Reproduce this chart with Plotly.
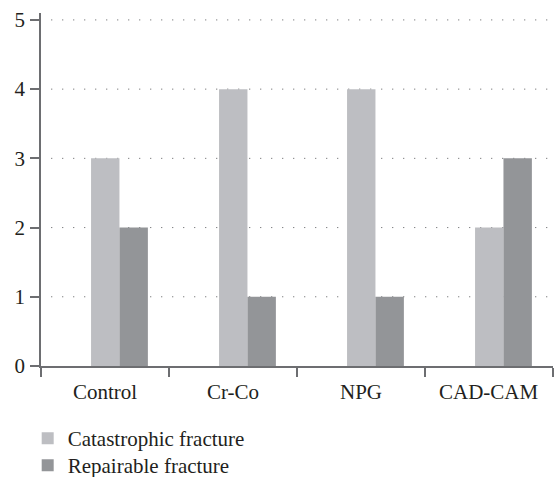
import plotly.graph_objects as go

categories = ["Control", "Cr-Co", "NPG", "CAD-CAM"]
catastrophic = [3, 4, 4, 2]
repairable = [2, 1, 1, 3]
y_ticks = [0, 1, 2, 3, 4, 5]

font_family = "Liberation Serif, DejaVu Serif, serif"
axis_color = "#6d6e71"
text_color = "#231f20"
grid_color = "#58595b"
fs = 21

fig = go.Figure()
fig.add_trace(go.Bar(
    x=categories, y=catastrophic, name="Catastrophic fracture",
    marker=dict(color="#bdbec2", line=dict(width=0)),
    width=0.222, offset=-0.109, legend="legend",
))
fig.add_trace(go.Bar(
    x=categories, y=repairable, name="Repairable fracture",
    marker=dict(color="#939598", line=dict(width=0)),
    width=0.222, offset=0.113, legend="legend2",
))

leg_common = dict(
    xref="paper", yref="container", xanchor="left", yanchor="top",
    orientation="v", font=dict(size=fs, family=font_family, color=text_color),
    bgcolor="rgba(0,0,0,0)", borderwidth=0,
)

fig.update_layout(
    width=554, height=477,
    margin=dict(l=41, r=1, t=13, b=111),
    plot_bgcolor="white", paper_bgcolor="white",
    font=dict(family=font_family, size=fs, color=text_color),
    barmode="overlay",
    showlegend=True,
    legend=dict(x=-0.026, y=(477 - 418) / 477, **leg_common),
    legend2=dict(x=-0.026, y=(477 - 445) / 477, **leg_common),
    xaxis=dict(
        range=[-0.5, 3.5], showgrid=False, automargin=False,
        showline=True, linecolor=axis_color, linewidth=1.5,
        ticks="outside", ticklen=9, tickcolor=axis_color, tickwidth=1.5,
        tickmode="array", tickvals=[-0.5, 0.5, 1.5, 2.5, 3.5], ticktext=["", "", "", "", ""],
        zeroline=False,
    ),
    yaxis=dict(
        range=[0, 5.1], tickvals=y_ticks, automargin=False,
        showline=True, linecolor=axis_color, linewidth=1.5,
        ticks="outside", ticklen=9, tickcolor=axis_color, tickwidth=1.5,
        ticklabelstandoff=1, showgrid=False,
        zeroline=False, tickfont=dict(size=fs),
    ),
)

# dotted horizontal gridlines at each nonzero y tick (placed via the y axis scale)
for v in y_ticks[1:]:
    fig.add_shape(type="line", xref="paper", yref="y", x0=0.02, x1=1, y0=v, y1=v,
                  line=dict(color=grid_color, width=1, dash="1px,10px"), layer="below")

for i, c in enumerate(categories):
    fig.add_annotation(x=i, y=0, xref="x", yref="y", text=c, showarrow=False,
                       yanchor="top", yshift=-12, font=dict(size=fs, family=font_family))

fig.write_html("out.html", config={"displayModeBar": False},
               post_script="document.body.style.margin='0';")
